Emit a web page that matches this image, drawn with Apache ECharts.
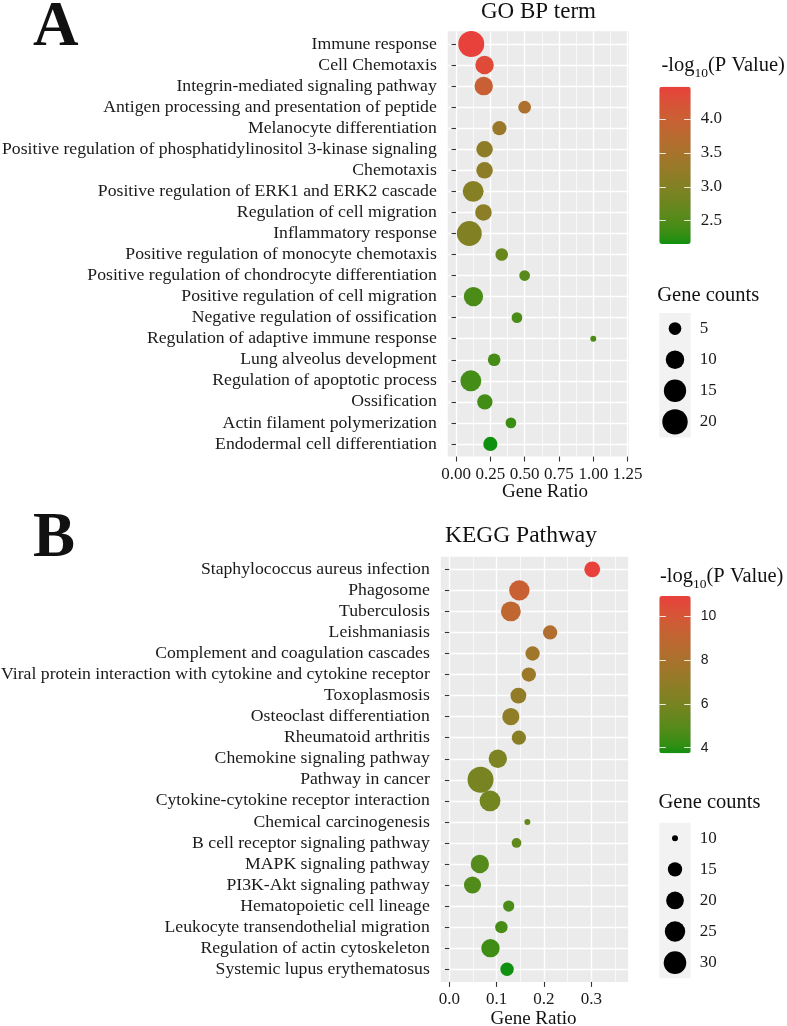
<!DOCTYPE html>
<html><head><meta charset="utf-8">
<script src="https://cdn.jsdelivr.net/npm/echarts@6/dist/echarts.min.js"></script>
<style>html,body{margin:0;padding:0;background:#fff}#c{width:787px;height:1026px}</style>
</head><body><div id="c"></div>
<script>
// ---------------- DATA ----------------
const goTerms = ['Immune response','Cell Chemotaxis','Integrin-mediated signaling pathway','Antigen processing and presentation of peptide','Melanocyte differentiation','Positive regulation of phosphatidylinositol 3-kinase signaling','Chemotaxis','Positive regulation of ERK1 and ERK2 cascade','Regulation of cell migration','Inflammatory response','Positive regulation of monocyte chemotaxis','Positive regulation of chondrocyte differentiation','Positive regulation of cell migration','Negative regulation of ossification','Regulation of adaptive immune response','Lung alveolus development','Regulation of apoptotic process','Ossification','Actin filament polymerization','Endodermal cell differentiation'];
const goRatio = [0.111,0.208,0.202,0.5,0.316,0.208,0.208,0.125,0.2,0.097,0.333,0.5,0.127,0.444,1.0,0.278,0.108,0.21,0.4,0.25];
const goCount = [21,10,10,5,6,8,8,13,8,19,5,4,11,4,3,5,13,7,4,6];
const goLogP = [4.475,4.35,4.0,3.58,3.3,3.15,3.15,3.05,3.12,3.0,2.7,2.55,2.45,2.45,2.45,2.42,2.4,2.38,2.33,2.157];
const goSizeBreaks = [5,10,15,20];
const goColorBreaks = [2.5,3.0,3.5,4.0];

const keggTerms = ['Staphylococcus aureus infection','Phagosome','Tuberculosis','Leishmaniasis','Complement and coagulation cascades','Viral protein interaction with cytokine and cytokine receptor','Toxoplasmosis','Osteoclast differentiation','Rheumatoid arthritis','Chemokine signaling pathway','Pathway in cancer','Cytokine-cytokine receptor interaction','Chemical carcinogenesis','B cell receptor signaling pathway','MAPK signaling pathway','PI3K-Akt signaling pathway','Hematopoietic cell lineage','Leukocyte transendothelial migration','Regulation of actin cytoskeleton','Systemic lupus erythematosus'];
const keggRatio = [0.302,0.148,0.130,0.213,0.176,0.168,0.146,0.130,0.147,0.1025,0.066,0.086,0.165,0.142,0.0645,0.049,0.1255,0.110,0.087,0.122];
const keggCount = [17,25,24,15,15,15,17,19,15,21,39,26,10,11,21,19,12,13,21,14];
const keggLogP = [10.91,9.4,9.0,8.3,7.6,7.4,7.0,6.9,6.6,6.1,6.0,5.8,5.4,5.2,4.9,4.8,4.6,4.5,4.4,3.745];
const keggSizeBreaks = [10,15,20,25,30];
const keggColorBreaks = [4,6,8,10];

// ---------------- STYLE / LAYOUT ----------------
const SERIF = '"Liberation Serif", "Times New Roman", serif';
const SANS = '"Liberation Sans", Arial, sans-serif';
const LOW = '#109010', HIGH = '#E8403B';
const D_MIN = 6.0, D_MAX = 26.0;

function hex2rgb(h){h=h.replace('#','');return [0,2,4].map(i=>parseInt(h.substr(i,2),16));}
function toLin(c){c/=255;return c<=0.04045?c/12.92:Math.pow((c+0.055)/1.055,2.4);}
function fromLin(c){c=c<=0.0031308?12.92*c:1.055*Math.pow(c,1/2.4)-0.055;return Math.round(Math.min(1,Math.max(0,c))*255);}
const WN=[0.95047,1,1.08883];
function rgb2lab(rgb){const [r,g,b]=rgb.map(toLin);const X=(0.4124*r+0.3576*g+0.1805*b)/WN[0],Y=(0.2126*r+0.7152*g+0.0722*b)/WN[1],Z=(0.0193*r+0.1192*g+0.9505*b)/WN[2];const f=t=>t>0.008856?Math.cbrt(t):7.787*t+16/116;const fx=f(X),fy=f(Y),fz=f(Z);return [116*fy-16,500*(fx-fy),200*(fy-fz)];}
function lab2rgb(lab){const [L,a,b]=lab;const fy=(L+16)/116,fx=fy+a/500,fz=fy-b/200;const fi=t=>t*t*t>0.008856?t*t*t:(t-16/116)/7.787;const X=fi(fx)*WN[0],Y=fi(fy)*WN[1],Z=fi(fz)*WN[2];const r=3.2406*X-1.5372*Y-0.4986*Z,g=-0.9689*X+1.8758*Y+0.0415*Z,bb=0.0557*X-0.2040*Y+1.0570*Z;return [r,g,bb].map(fromLin);}
function labRamp(lo,hi,n){const A=rgb2lab(hex2rgb(lo)),B=rgb2lab(hex2rgb(hi));const out=[];for(let i=0;i<n;i++){const t=i/(n-1);const c=lab2rgb(A.map((v,j)=>v+(B[j]-v)*t));out.push('rgb('+c.join(',')+')');}return out;}
const RAMP = labRamp(LOW, HIGH, 21);

const panels = [
  {terms:goTerms, ratio:goRatio, count:goCount, logp:goLogP, sizeBreaks:goSizeBreaks, colorBreaks:goColorBreaks,
   xMin:-0.06, xMax:1.26, xMajor:0.25, xMinor:0.125, xMajorMax:1.25, xMinorMax:1.25, xDigits:2,
   x0:456, ppu:137.3, rowY0:44, rowStep:21.05,
   barLeft:659.3, barTop:86.7, barW:31.4, barH:157.3, cbDigits:1, cbFont:{fontFamily:SERIF,fontSize:17},
   sizeTop:313, sizeStep:31.1},
  {terms:keggTerms, ratio:keggRatio, count:keggCount, logp:keggLogP, sizeBreaks:keggSizeBreaks, colorBreaks:keggColorBreaks,
   xMin:-0.018, xMax:0.378, xMajor:0.1, xMinor:0.05, xMajorMax:0.3, xMinorMax:0.35, xDigits:1,
   x0:449.3, ppu:473.3, rowY0:569.3, rowStep:21.05,
   barLeft:659.3, barTop:596, barW:31.4, barH:157.3, cbDigits:0, cbFont:{fontFamily:SANS,fontSize:14},
   sizeTop:822.7, sizeStep:31.1}
];

const grid=[], xAxis=[], yAxis=[], series=[], visualMap=[];
function addGrid(g){g.outerBoundsMode='none';g.containLabel=false;if(g.show===undefined)g.show=false;grid.push(g);return grid.length-1;}
const hiddenVal = (gi,min,max)=>({gridIndex:gi,type:'value',min:min,max:max,show:false});
const tickStyle = {color:'#333',width:1.1};

panels.forEach((p)=>{
  const n = p.terms.length;
  const pLeft = p.x0 + p.xMin*p.ppu, pW = (p.xMax-p.xMin)*p.ppu;
  const rowLast = p.rowY0 + (n-1)*p.rowStep;
  const pTop = p.rowY0 - 0.6*p.rowStep, pBot = rowLast + 0.6*p.rowStep;
  const lo = Math.min(...p.count), hi = Math.max(...p.count);
  const size = c => D_MIN + (D_MAX-D_MIN)*Math.sqrt((c-lo)/(hi-lo));

  // panel background
  let g = addGrid({left:pLeft, top:pTop, width:pW, height:pBot-pTop, show:true, backgroundColor:'#EBEBEB', borderWidth:0});
  xAxis.push(hiddenVal(g,0,1)); yAxis.push(hiddenVal(g,0,1));

  // minor vertical grid lines
  g = addGrid({left:p.x0, top:pTop, width:p.xMinorMax*p.ppu, height:pBot-pTop});
  xAxis.push({gridIndex:g,type:'value',min:0,max:p.xMinorMax,interval:p.xMinor,axisLine:{show:false},axisTick:{show:false},axisLabel:{show:false},splitLine:{show:true,lineStyle:{color:'#fff',width:0.7}}});
  yAxis.push(hiddenVal(g,0,1));

  // major vertical grid lines + x labels
  g = addGrid({left:p.x0, top:pTop, width:p.xMajorMax*p.ppu, height:pBot-pTop});
  xAxis.push({gridIndex:g,type:'value',min:0,max:p.xMajorMax,interval:p.xMajor,axisLine:{show:false},
    axisTick:{show:true,length:5,lineStyle:tickStyle},
    axisLabel:{margin:9,color:'#1a1a1a',fontFamily:SERIF,fontSize:17,formatter:v=>Number(v).toFixed(p.xDigits)},
    splitLine:{show:true,lineStyle:{color:'#fff',width:1.4}}});
  yAxis.push(hiddenVal(g,0,1));

  // data grid: horizontal lines + y labels + points
  g = addGrid({left:pLeft, top:p.rowY0, width:pW, height:rowLast-p.rowY0});
  const xi = xAxis.length, yi = yAxis.length;
  xAxis.push(hiddenVal(g,p.xMin,p.xMax));
  yAxis.push({gridIndex:g,type:'category',data:p.terms,inverse:true,boundaryGap:false,axisLine:{show:false},
    axisTick:{show:true,length:4.5,interval:0,lineStyle:tickStyle},
    axisLabel:{interval:0,margin:11,color:'#1a1a1a',fontFamily:SERIF,fontSize:17.7},
    splitLine:{show:true,interval:0,lineStyle:{color:'#fff',width:1.4}}});
  series.push({type:'scatter',xAxisIndex:xi,yAxisIndex:yi,z:3,silent:true,
    data:p.terms.map((t,i)=>[p.ratio[i],t,p.count[i],p.logp[i]]),
    encode:{x:0,y:1},symbolSize:v=>size(v[2]),itemStyle:{opacity:1}});
  const sIdx = series.length-1;

  // colour bar
  const vmin = Math.min(...p.logp), vmax = Math.max(...p.logp);
  visualMap.push({type:'continuous',seriesIndex:sIdx,dimension:3,min:vmin,max:vmax,inRange:{color:RAMP},
    orient:'vertical',left:p.barLeft,top:p.barTop,itemWidth:p.barW,itemHeight:p.barH,padding:0,
    calculable:false,hoverLink:false,text:null,showLabel:false,z:4});
  const yOf = v => p.barTop + (vmax - v)/(vmax - vmin)*p.barH;
  const cb = p.colorBreaks, cbMin = cb[0], cbMax = cb[cb.length-1];
  g = addGrid({left:p.barLeft, top:yOf(cbMax), width:p.barW, height:yOf(cbMin)-yOf(cbMax)});
  xAxis.push(hiddenVal(g,0,1));
  const cbTick = {show:true,inside:true,length:6.5,lineStyle:{color:'rgba(255,255,255,0.85)',width:1}};
  yAxis.push({gridIndex:g,type:'value',position:'left',min:cbMin,max:cbMax,interval:cb[1]-cb[0],z:10,
    axisLine:{show:false},axisTick:cbTick,axisLabel:{show:false},splitLine:{show:false}});
  yAxis.push({gridIndex:g,type:'value',position:'right',min:cbMin,max:cbMax,interval:cb[1]-cb[0],z:10,
    axisLine:{show:false},axisTick:cbTick,splitLine:{show:false},
    axisLabel:Object.assign({show:true,margin:10,color:'#1a1a1a',formatter:v=>Number(v).toFixed(p.cbDigits)},p.cbFont)});

  // size legend
  const sb = p.sizeBreaks;
  g = addGrid({left:p.barLeft, top:p.sizeTop, width:p.barW, height:p.sizeStep*sb.length, show:true, backgroundColor:'#F2F2F2', borderWidth:0});
  const lxi = xAxis.length, lyi = yAxis.length;
  xAxis.push(hiddenVal(g,0,1));
  yAxis.push({gridIndex:g,type:'category',data:sb.map(String),inverse:true,position:'right',
    axisLine:{show:false},axisTick:{show:false},splitLine:{show:false},
    axisLabel:{interval:0,margin:9,color:'#1a1a1a',fontFamily:SERIF,fontSize:17}});
  series.push({type:'scatter',xAxisIndex:lxi,yAxisIndex:lyi,z:3,silent:true,
    data:sb.map(b=>[0.5,String(b),b]),encode:{x:0,y:1},symbolSize:v=>size(v[2]),itemStyle:{color:'#000',opacity:1}});
});

function txt(x,y,text,font,align,extra){
  return Object.assign({type:'text',x:x,y:y,silent:true,style:{text:text,font:font,fill:'#111',
    align:align||'left',textAlign:align||'left',verticalAlign:'middle',textVerticalAlign:'middle'}},extra||{});
}
function cbTitle(x,y){
  return {type:'text',x:x,y:y,silent:true,style:{text:'{a|-log}{b|10}{a|(P Value)}',fill:'#111',
    align:'left',verticalAlign:'middle',
    rich:{a:{fontFamily:SERIF,fontSize:20.5,fill:'#111',verticalAlign:'bottom',padding:[0,0,4,0]},
          b:{fontFamily:SERIF,fontSize:13.5,fill:'#111',verticalAlign:'bottom'}}}};
}
const graphic = [
  txt(33,29,'A','bold 63px '+SERIF),
  txt(33,540,'B','bold 63px '+SERIF),
  txt(538.5,12,'GO BP term','23px '+SERIF,'center'),
  txt(521,536,'KEGG Pathway','23.5px '+SERIF,'center'),
  txt(545,492,'Gene Ratio','19px '+SERIF,'center'),
  txt(533.5,1019,'Gene Ratio','19px '+SERIF,'center'),
  txt(657.3,295.5,'Gene counts','20.5px '+SERIF),
  txt(658.5,803,'Gene counts','20.5px '+SERIF),
  cbTitle(661.5,68),
  cbTitle(660,579)
];

const chart = echarts.init(document.getElementById('c'), null, {renderer:'canvas'});
chart.setOption({animation:false,backgroundColor:'#fff',grid,xAxis,yAxis,series,visualMap,graphic});
</script></body></html>
